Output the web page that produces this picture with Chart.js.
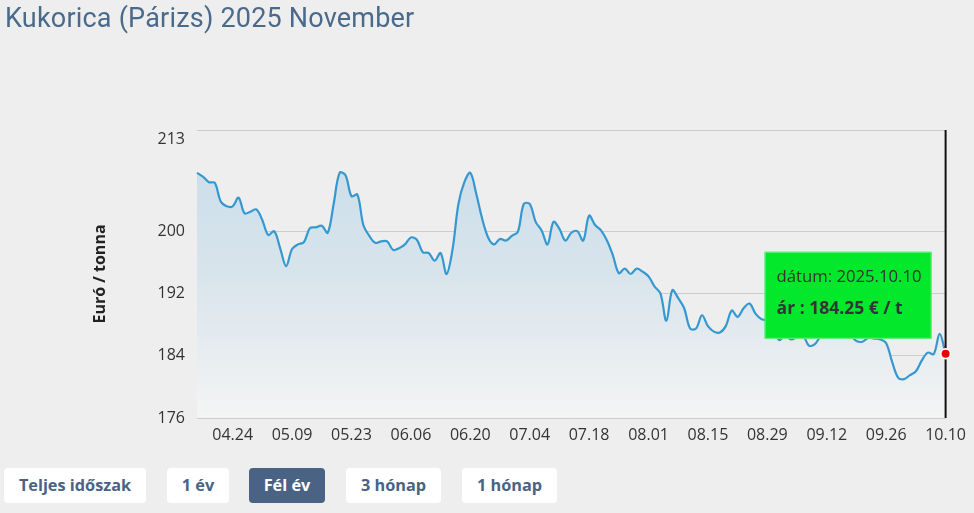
<!DOCTYPE html>
<html><head><meta charset="utf-8">
<script src="https://cdn.jsdelivr.net/npm/chart.js@4.4.1/dist/chart.umd.min.js"></script>
<style>
html,body{margin:0;padding:0;background:#eeeeee;width:974px;height:513px;overflow:hidden;}
#title{position:absolute;left:5px;top:3px;line-height:30px;font-family:Roboto,sans-serif;font-size:27px;letter-spacing:0.2px;color:#4a6a8c;white-space:nowrap;}
#c{position:absolute;left:0;top:0;}
.btn{position:absolute;top:468px;height:35px;line-height:35px;text-align:center;background:#fff;color:#4a6384;font-family:'Open Sans',sans-serif;font-weight:bold;font-size:16.3px;border-radius:4px;white-space:nowrap;}
.btn.active{background:#4a6384;color:#fff;}
</style></head><body>
<canvas id="c" width="974" height="460"></canvas>
<div id="title">Kukorica (Párizs) 2025 November</div>
<div class="btn" style="left:4px;width:142px">Teljes időszak</div>
<div class="btn" style="left:167px;width:62px">1 év</div>
<div class="btn active" style="left:249px;width:76px">Fél év</div>
<div class="btn" style="left:346px;width:95px">3 hónap</div>
<div class="btn" style="left:462px;width:95px">1 hónap</div>
<script>
const dates = [
"2025.04.14","2025.04.15","2025.04.16","2025.04.17","2025.04.22","2025.04.23","2025.04.24","2025.04.25","2025.04.28","2025.04.29","2025.04.30",
"2025.05.02","2025.05.05","2025.05.06","2025.05.07","2025.05.08","2025.05.09","2025.05.12","2025.05.13","2025.05.14","2025.05.15","2025.05.16","2025.05.19","2025.05.20","2025.05.21","2025.05.22","2025.05.23","2025.05.26","2025.05.27","2025.05.28","2025.05.29","2025.05.30",
"2025.06.02","2025.06.03","2025.06.04","2025.06.05","2025.06.06","2025.06.09","2025.06.10","2025.06.11","2025.06.12","2025.06.13","2025.06.16","2025.06.17","2025.06.18","2025.06.19","2025.06.20","2025.06.23","2025.06.24","2025.06.25","2025.06.26","2025.06.27","2025.06.30",
"2025.07.01","2025.07.02","2025.07.03","2025.07.04","2025.07.07","2025.07.08","2025.07.09","2025.07.10","2025.07.11","2025.07.14","2025.07.15","2025.07.16","2025.07.17","2025.07.18","2025.07.21","2025.07.22","2025.07.23","2025.07.24","2025.07.25","2025.07.28","2025.07.29","2025.07.30","2025.07.31",
"2025.08.01","2025.08.04","2025.08.05","2025.08.06","2025.08.07","2025.08.08","2025.08.11","2025.08.12","2025.08.13","2025.08.14","2025.08.15","2025.08.18","2025.08.19","2025.08.20","2025.08.21","2025.08.22","2025.08.25","2025.08.26","2025.08.27","2025.08.28","2025.08.29",
"2025.09.01","2025.09.02","2025.09.03","2025.09.04","2025.09.05","2025.09.08","2025.09.09","2025.09.10","2025.09.11","2025.09.12","2025.09.15","2025.09.16","2025.09.17","2025.09.18","2025.09.19","2025.09.22","2025.09.23","2025.09.24","2025.09.25","2025.09.26","2025.09.29","2025.09.30",
"2025.10.01","2025.10.02","2025.10.03","2025.10.06","2025.10.07","2025.10.08","2025.10.09","2025.10.10"
];
const prices = [
207.5,207.0,206.3,206.2,203.8,203.2,203.2,204.3,202.3,202.5,202.8,
201.4,199.5,200.0,197.8,195.5,197.7,198.3,198.6,200.4,200.5,200.7,199.8,203.5,207.5,207.2,204.5,204.7,200.8,199.4,198.5,
198.7,198.7,197.6,197.8,198.3,199.2,198.9,197.3,197.2,196.2,197.2,194.5,197.6,203.5,206.3,207.5,204.8,201.6,199.2,198.3,
199.0,198.8,199.4,199.9,203.5,203.5,201.2,200.1,198.3,201.2,200.3,198.8,199.8,200.0,198.8,202.0,200.8,200.1,198.8,196.9,194.6,195.2,
194.5,195.2,194.8,194.2,192.9,192.0,188.5,192.4,191.4,190.1,187.5,187.5,189.2,187.8,187.1,187.0,187.8,189.8,189.0,
190.1,190.7,189.4,188.7,188.5,187.5,186.0,186.6,186.1,186.4,186.6,185.3,185.5,186.6,187.4,188.0,187.4,187.0,186.6,185.9,185.8,186.3,
186.2,186.1,185.6,183.2,181.2,181.0,181.5,182.0,183.4,184.4,184.2,186.8,184.25
];
const yTicks = [176,184,192,200,213];
const unitLabel = "Euró / tonna";

const overlay = {
  id:'overlay',
  afterDatasetsDraw(chart){
    const ctx = chart.ctx;
    const meta = chart.getDatasetMeta(0);
    const n = meta.data.length - 1;
    const last = meta.data[n];
    const {top,bottom} = chart.chartArea;
    ctx.save();
    ctx.strokeStyle = '#111'; ctx.lineWidth = 2;
    ctx.beginPath(); ctx.moveTo(last.x, top); ctx.lineTo(last.x, bottom); ctx.stroke();
    ctx.beginPath(); ctx.arc(last.x, last.y, 4.5, 0, Math.PI*2);
    ctx.fillStyle = '#ff0000'; ctx.fill();
    ctx.lineWidth = 2.5; ctx.strokeStyle = '#ffffff'; ctx.stroke();
    ctx.beginPath(); ctx.arc(last.x, last.y, 4, 0, Math.PI*2);
    ctx.fillStyle = '#ee0000'; ctx.fill();
    const bw = 167, bh = 87;
    const bx = last.x - 181, by = last.y - 102;
    ctx.fillStyle = '#04e82c';
    ctx.fillRect(bx, by, bw, bh);
    ctx.strokeStyle = 'rgba(120,240,140,0.9)'; ctx.lineWidth = 1;
    ctx.strokeRect(bx+0.5, by+0.5, bw-1, bh-1);
    ctx.fillStyle = '#333';
    ctx.textBaseline = 'middle'; ctx.textAlign = 'left';
    ctx.font = "16.7px 'Open Sans'";
    ctx.fillText('dátum: ' + dates[n], bx + 12, by + 25);
    ctx.font = "bold 17.5px 'Open Sans'";
    ctx.fillText('ár : ' + prices[n].toFixed(2) + ' € / t', bx + 12, by + 57);
    ctx.restore();
  }
};

new Chart(document.getElementById('c'), {
  type: 'line',
  data: {
    labels: dates,
    datasets: [{
      data: prices,
      borderColor: '#3598d0',
      borderWidth: 2.2,
      tension: 0.35,
      pointRadius: 0,
      fill: 'start',
      backgroundColor: (c) => {
        const ca = c.chart.chartArea;
        if (!ca) return 'rgba(200,220,230,0.6)';
        const g = c.chart.ctx.createLinearGradient(0, ca.top, 0, ca.bottom);
        g.addColorStop(0, '#c8dde9');
        g.addColorStop(0.5, '#d8e4ec');
        g.addColorStop(1, '#f4f4f4');
        return g;
      }
    }]
  },
  options: {
    responsive: false,
    animation: false,
    devicePixelRatio: 1,
    layout: { padding: { left: 79, right: 28, top: 130, bottom: 0 } },
    plugins: { legend: { display: false }, tooltip: { enabled: false } },
    scales: {
      x: {
        type: 'category',
        offset: false,
        grid: { display: false, drawTicks: false },
        border: { display: false },
        afterFit: (s) => { s.height = 42; },
        ticks: {
          autoSkip: false, maxRotation: 0, minRotation: 0, padding: 8,
          color: '#333', font: { family: 'Open Sans', size: 16 },
          callback: function(v, i) {
            return ((dates.length - 1 - i) % 10 === 0) ? dates[i].slice(5) : null;
          }
        }
      },
      y: {
        min: yTicks[0], max: yTicks[yTicks.length-1],
        afterBuildTicks: (s) => { s.ticks = yTicks.map(v => ({ value: v })); },
        afterFit: (s) => { s.width = 118; },
        grid: { color: '#cccccc', lineWidth: 1, drawTicks: false },
        border: { display: false },
        ticks: {
          padding: 12, color: '#333', font: { family: 'Open Sans', size: 16 },
          callback: (v) => (v === yTicks[yTicks.length-1] ? ['', String(v)] : String(v))
        },
        title: {
          display: true, text: unitLabel, color: '#222',
          font: { family: 'Open Sans', size: 16, weight: 'bold' },
          padding: { top: 12, bottom: 0 }
        }
      }
    }
  },
  plugins: [overlay]
});
</script>
</body></html>
